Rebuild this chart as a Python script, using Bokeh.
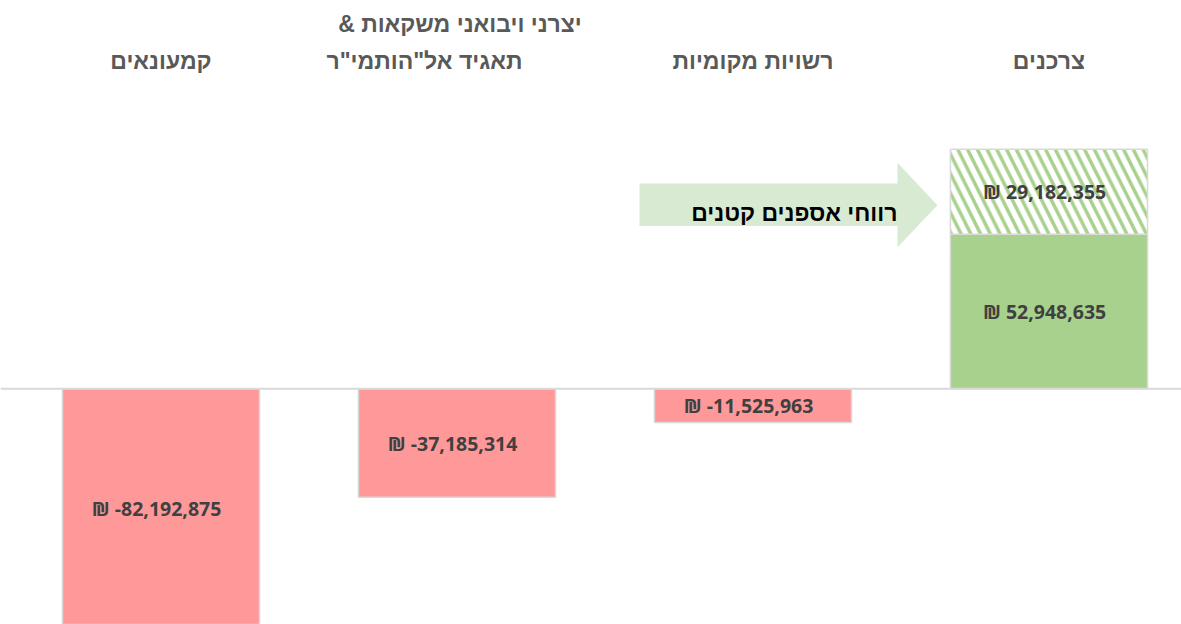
from bokeh.plotting import figure
from bokeh.models import Range1d, Span, ColumnDataSource
from bokeh.core.properties import value
from bokeh.embed import file_html
from bokeh.resources import INLINE

# ---- data ----
cat_line1 = ["", "יצרני ויבואני משקאות &\u200f", "", ""]
cat_line2 = ["קמעונאים", "תאגיד אל\"הותמי\"ר", "רשויות מקומיות", "צרכנים"]
main_values = [-82192875, -37185314, -11525963, 52948635]
extra_values = [0, 0, 0, 29182355]
arrow_label = "רווחי אספנים קטנים"

RED = "#FF9999"
GREEN = "#A9D18E"
EDGE = "#D9D9D9"
BAR_W = 0.666
HEB_FONT = value("Liberation Sans")

xs = list(range(len(main_values)))

p = figure(width=1181, height=624, output_backend="svg", toolbar_location=None,
           x_range=Range1d(-0.5422, 3.4477), y_range=Range1d(-80.8e6, 133.1e6),
           min_border=0, min_border_left=0, min_border_right=0,
           min_border_top=0, min_border_bottom=0)
p.axis.visible = False
p.grid.visible = False
p.outline_line_color = None
p.background_fill_color = "white"
p.border_fill_color = "white"

# main bars
colors = [RED if v < 0 else GREEN for v in main_values]
src = ColumnDataSource(dict(x=xs, top=[max(v, 0) for v in main_values],
                            bottom=[min(v, 0) for v in main_values], color=colors))
p.vbar(x="x", top="top", bottom="bottom", width=BAR_W, fill_color="color",
       line_color=EDGE, line_width=1.5, source=src)

# hatched stacked segment
hx = [x for x, e in zip(xs, extra_values) if e > 0]
hb = [max(m, 0) for m, e in zip(main_values, extra_values) if e > 0]
ht = [max(m, 0) + e for m, e in zip(main_values, extra_values) if e > 0]
p.vbar(x=hx, bottom=hb, top=ht, width=BAR_W, fill_color="white",
       hatch_pattern="\\", hatch_color=GREEN, hatch_scale=19.5, hatch_weight=3.5,
       line_color=EDGE, line_width=1.5)

p.add_layout(Span(location=0, dimension="width", line_color=EDGE, line_width=2))

# value labels
lx, ly, lt = [], [], []
for x, m, e in zip(xs, main_values, extra_values):
    lx.append(x - 0.015); ly.append(m / 2); lt.append(f"₪ {m:,.0f}")
    if e > 0:
        lx.append(x - 0.015); ly.append(max(m, 0) + e / 2); lt.append(f"₪ {e:,.0f}")
p.text(x=lx, y=ly, text=lt, text_font=value("Open Sans"), text_font_style="bold",
       text_font_size="19.5px", text_color="#404040", text_align="center",
       text_baseline="middle")

# category labels
p.text(x=[x + (-0.11 if cat_line1[i] else 0) for i, x in enumerate(xs)], y=[112.5e6] * 4,
       text=cat_line2, text_font=HEB_FONT,
       text_font_style="bold", text_font_size="23px", text_color="#595959",
       text_align="center", text_baseline="middle")
p.text(x=[x + 0.01 for x in xs], y=[124.9e6] * 4, text=cat_line1, text_font=HEB_FONT,
       text_font_style="bold", text_font_size="23px", text_color="#595959",
       text_align="center", text_baseline="middle")

# annotation arrow
ax_l, ax_b, ax_t = 1.6166, 2.4882, 2.6233
ay_st, ay_sb, ay_ht, ay_hb, ay_tip = 70.4e6, 55.8e6, 77.5e6, 48.5e6, 62.9e6
p.patch(x=[ax_l, ax_b, ax_b, ax_t, ax_b, ax_b, ax_l],
        y=[ay_st, ay_st, ay_ht, ay_tip, ay_hb, ay_sb, ay_sb],
        fill_color="#D9EAD3", line_color=None)
p.text(x=[ax_b], y=[60.4e6], text=[arrow_label], text_font=HEB_FONT,
       text_font_style="bold", text_font_size="23px", text_color="#000000",
       text_align="right", text_baseline="middle")

open("out.html", "w").write(file_html(p, INLINE))
